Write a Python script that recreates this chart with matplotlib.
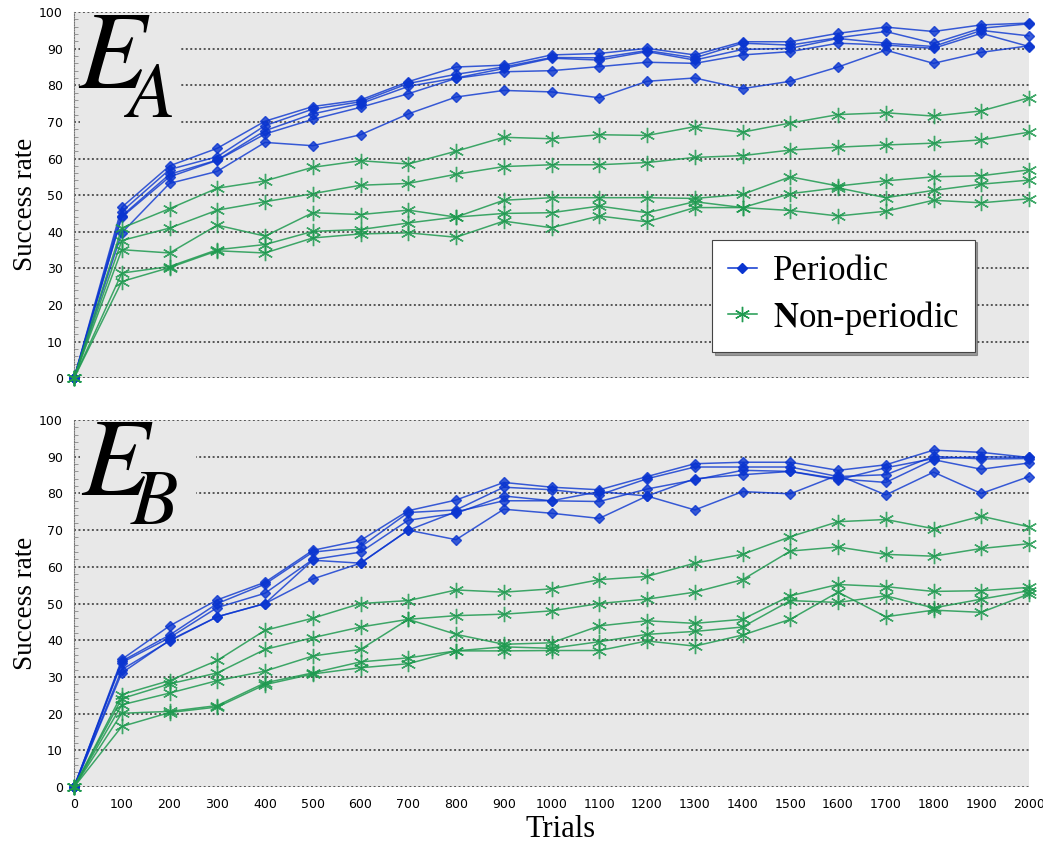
import matplotlib
matplotlib.use('Agg')
import matplotlib.pyplot as plt
from matplotlib.ticker import MultipleLocator
from matplotlib.patches import Rectangle

plt.rcParams['mathtext.fontset'] = 'stix'

trials = list(range(0, 2001, 100))

# panel E_A, periodic
pa1 = [0, 46.7, 58.0, 62.8, 70.2, 74.2, 76.0, 81.0, 85.0, 85.5, 88.3, 88.7, 90.1, 88.3, 91.9, 91.9, 94.2, 95.9, 94.7, 96.5, 97.0]
pa2 = [0, 45.5, 57.0, 60.5, 69.0, 73.5, 75.5, 80.5, 83.0, 85.0, 87.6, 87.5, 89.5, 87.5, 91.5, 91.0, 93.0, 94.7, 91.5, 95.6, 96.8]
pa3 = [0, 44.3, 55.7, 59.6, 67.6, 72.2, 75.0, 79.7, 82.0, 84.6, 87.4, 86.9, 89.2, 86.9, 89.8, 90.1, 92.8, 91.5, 90.6, 95.0, 93.5]
pa4 = [0, 44.0, 55.0, 59.5, 66.7, 70.7, 74.0, 77.7, 81.9, 83.7, 84.0, 85.1, 86.3, 86.0, 88.3, 89.2, 91.5, 91.0, 90.1, 94.2, 90.6]
pa5 = [0, 39.7, 53.2, 56.5, 64.4, 63.5, 66.5, 72.2, 76.8, 78.6, 78.2, 76.6, 81.1, 82.0, 79.1, 81.1, 85.0, 89.6, 86.0, 89.0, 90.8]

# panel E_A, non-periodic
na1 = [0, 41.0, 46.3, 51.9, 53.9, 57.6, 59.4, 58.5, 62.0, 65.8, 65.4, 66.5, 66.3, 68.7, 67.2, 69.7, 72.0, 72.5, 71.6, 73.0, 76.6]
na2 = [0, 37.6, 41.0, 45.9, 48.2, 50.4, 52.7, 53.2, 55.7, 57.8, 58.3, 58.3, 58.9, 60.3, 60.8, 62.3, 63.1, 63.7, 64.2, 65.1, 67.2]
na3 = [0, 35.1, 34.2, 41.8, 38.8, 45.2, 44.7, 45.9, 44.0, 48.6, 49.3, 49.3, 49.3, 49.1, 50.2, 55.0, 52.5, 53.9, 55.0, 55.3, 56.9]
na4 = [0, 28.7, 30.5, 35.1, 36.5, 40.1, 40.6, 42.4, 44.0, 45.0, 45.2, 47.0, 45.2, 48.2, 46.6, 50.4, 52.0, 49.3, 51.3, 53.0, 54.1]
na5 = [0, 26.4, 30.2, 34.8, 34.2, 38.3, 39.4, 39.7, 38.5, 42.9, 41.1, 44.3, 42.7, 46.6, 46.6, 45.8, 44.3, 45.6, 48.6, 47.9, 49.0]

# panel E_B, periodic
pb1 = [0, 34.8, 43.9, 51.0, 55.8, 64.5, 67.2, 75.3, 78.2, 83.0, 81.7, 81.0, 84.6, 88.1, 88.5, 88.5, 86.3, 87.8, 91.8, 91.2, 89.8]
pb2 = [0, 34.3, 41.4, 50.0, 55.3, 64.0, 65.4, 74.8, 75.5, 81.7, 81.0, 79.6, 84.0, 87.2, 87.2, 87.2, 84.6, 85.1, 90.1, 89.4, 89.5]
pb3 = [0, 33.9, 40.7, 48.9, 52.8, 62.0, 64.0, 72.7, 74.6, 79.3, 78.0, 77.8, 81.2, 83.7, 86.3, 86.0, 84.0, 83.0, 89.2, 86.6, 88.3]
pb4 = [0, 32.0, 39.8, 46.4, 50.0, 61.8, 61.0, 70.0, 75.0, 78.0, 78.0, 80.5, 79.3, 84.0, 85.1, 86.0, 83.7, 87.0, 89.5, 90.0, 89.8]
pb5 = [0, 31.1, 40.0, 46.4, 50.0, 56.7, 61.0, 70.0, 67.4, 75.7, 74.6, 73.2, 79.3, 75.5, 80.5, 79.9, 85.0, 79.6, 85.8, 80.0, 84.6]

# panel E_B, non-periodic
nb1 = [0, 25.2, 29.0, 34.5, 42.7, 46.0, 50.0, 50.8, 53.7, 53.1, 54.0, 56.5, 57.4, 61.0, 63.4, 68.2, 72.3, 72.9, 70.4, 73.8, 70.9]
nb2 = [0, 24.1, 28.1, 31.1, 37.5, 40.7, 43.6, 45.7, 46.7, 47.1, 48.0, 50.0, 51.2, 53.1, 56.5, 64.3, 65.4, 63.4, 62.9, 65.0, 66.3]
nb3 = [0, 22.4, 25.6, 29.0, 31.6, 35.7, 37.5, 45.7, 41.6, 38.9, 39.3, 43.9, 45.3, 44.6, 45.7, 52.1, 55.2, 54.6, 53.3, 53.5, 54.4]
nb4 = [0, 20.1, 20.6, 22.2, 28.4, 31.1, 34.1, 35.2, 37.1, 38.2, 37.8, 39.6, 41.6, 42.4, 43.6, 50.8, 50.3, 52.1, 48.8, 51.2, 53.5]
nb5 = [0, 16.5, 20.3, 21.8, 27.9, 30.8, 32.5, 33.6, 37.1, 37.1, 37.2, 37.2, 39.8, 38.4, 41.4, 45.7, 53.1, 46.4, 48.2, 47.6, 52.6]

blue = '#0a35d0'
green = '#1f9a50'
bg = '#e8e8e8'

fig = plt.figure(figsize=(10.43, 8.46), dpi=100)
ax_a = fig.add_axes([0.071, 0.553, 0.9156, 0.4327])
ax_b = fig.add_axes([0.071, 0.0697, 0.9156, 0.4338])


def style_axes(ax, show_x):
    ax.set_facecolor(bg)
    ax.set_xlim(0, 2000)
    ax.set_ylim(0, 100)
    ax.set_yticks(range(0, 101, 10))
    ax.yaxis.set_minor_locator(MultipleLocator(2))
    ax.set_xticks(trials)
    ax.grid(axis='y', color='#555555', linestyle=(0, (1, 1.3)), linewidth=1.4)
    ax.set_axisbelow(True)
    for s in ['top', 'right', 'bottom']:
        ax.spines[s].set_visible(False)
    ax.spines['left'].set_linestyle((0, (1, 1.3)))
    ax.spines['left'].set_color('#777777')
    ax.tick_params(axis='y', which='major', length=0, labelsize=9, pad=8)
    ax.tick_params(axis='y', which='minor', length=3, direction='in', color='#888888')
    ax.tick_params(axis='x', length=0, labelsize=9, pad=8)
    if not show_x:
        ax.set_xticklabels([])


def draw(ax, periodic, nonperiodic):
    for vals in periodic:
        ax.plot(trials, vals, color=blue, alpha=0.8, linewidth=1.1,
                marker='D', markersize=5.5, markerfacecolor=blue,
                markeredgecolor=blue, clip_on=False, zorder=3)
    for vals in nonperiodic:
        ax.plot(trials, vals, color=green, alpha=0.85, linewidth=1.1,
                marker=(6, 2, 0), markersize=11, markeredgewidth=1.0,
                markeredgecolor=green, clip_on=False, zorder=3)


style_axes(ax_a, False)
style_axes(ax_b, True)

# the panel names hide the grid behind them
ax_a.add_patch(Rectangle((0.006, 0.69), 0.105, 0.29, transform=ax_a.transAxes,
                         facecolor=bg, edgecolor='none', zorder=1.5))
ax_b.add_patch(Rectangle((0.006, 0.71), 0.122, 0.27, transform=ax_b.transAxes,
                         facecolor=bg, edgecolor='none', zorder=1.5))

draw(ax_a, [pa1, pa2, pa3, pa4, pa5], [na1, na2, na3, na4, na5])
draw(ax_b, [pb1, pb2, pb3, pb4, pb5], [nb1, nb2, nb3, nb4, nb5])

# legend in the top panel
lp, = ax_a.plot([], [], color=blue, linewidth=1.1, marker='D', markersize=5.5)
ln, = ax_a.plot([], [], color=green, linewidth=1.1, marker=(6, 2, 0), markersize=11)
leg = ax_a.legend([lp, ln], ['Periodic', r'$\mathbf{N}$on-periodic'], loc='lower left',
                  bbox_to_anchor=(0.668, 0.071), frameon=True, fancybox=False,
                  shadow=True, handlelength=0.85, handletextpad=0.45,
                  borderpad=0.45, labelspacing=0.3, borderaxespad=0,
                  prop={'family': 'Liberation Serif', 'size': 25})
leg.get_frame().set_edgecolor('#444444')
leg.get_frame().set_linewidth(0.8)
leg.get_frame().set_facecolor('white')
leg.get_frame().set_alpha(1)

# big panel labels (empty superscript pushes the subscript lower)
fig.text(0.075, 0.897, r'$E^{\,}_{\!\!A}$', fontsize=80, ha='left', va='baseline')
fig.text(0.078, 0.414, r'$E^{\,}_{\!\!B}$', fontsize=80, ha='left', va='baseline')

fig.text(0.024, 0.758, 'Success rate', rotation=90, ha='center', va='center',
         fontsize=19.5, family='Liberation Serif')
fig.text(0.024, 0.287, 'Success rate', rotation=90, ha='center', va='center',
         fontsize=19.5, family='Liberation Serif')
fig.text(0.537, 0.019, 'Trials', ha='center', va='center',
         fontsize=22, family='Liberation Serif')

fig.savefig('out.png', dpi=100)
